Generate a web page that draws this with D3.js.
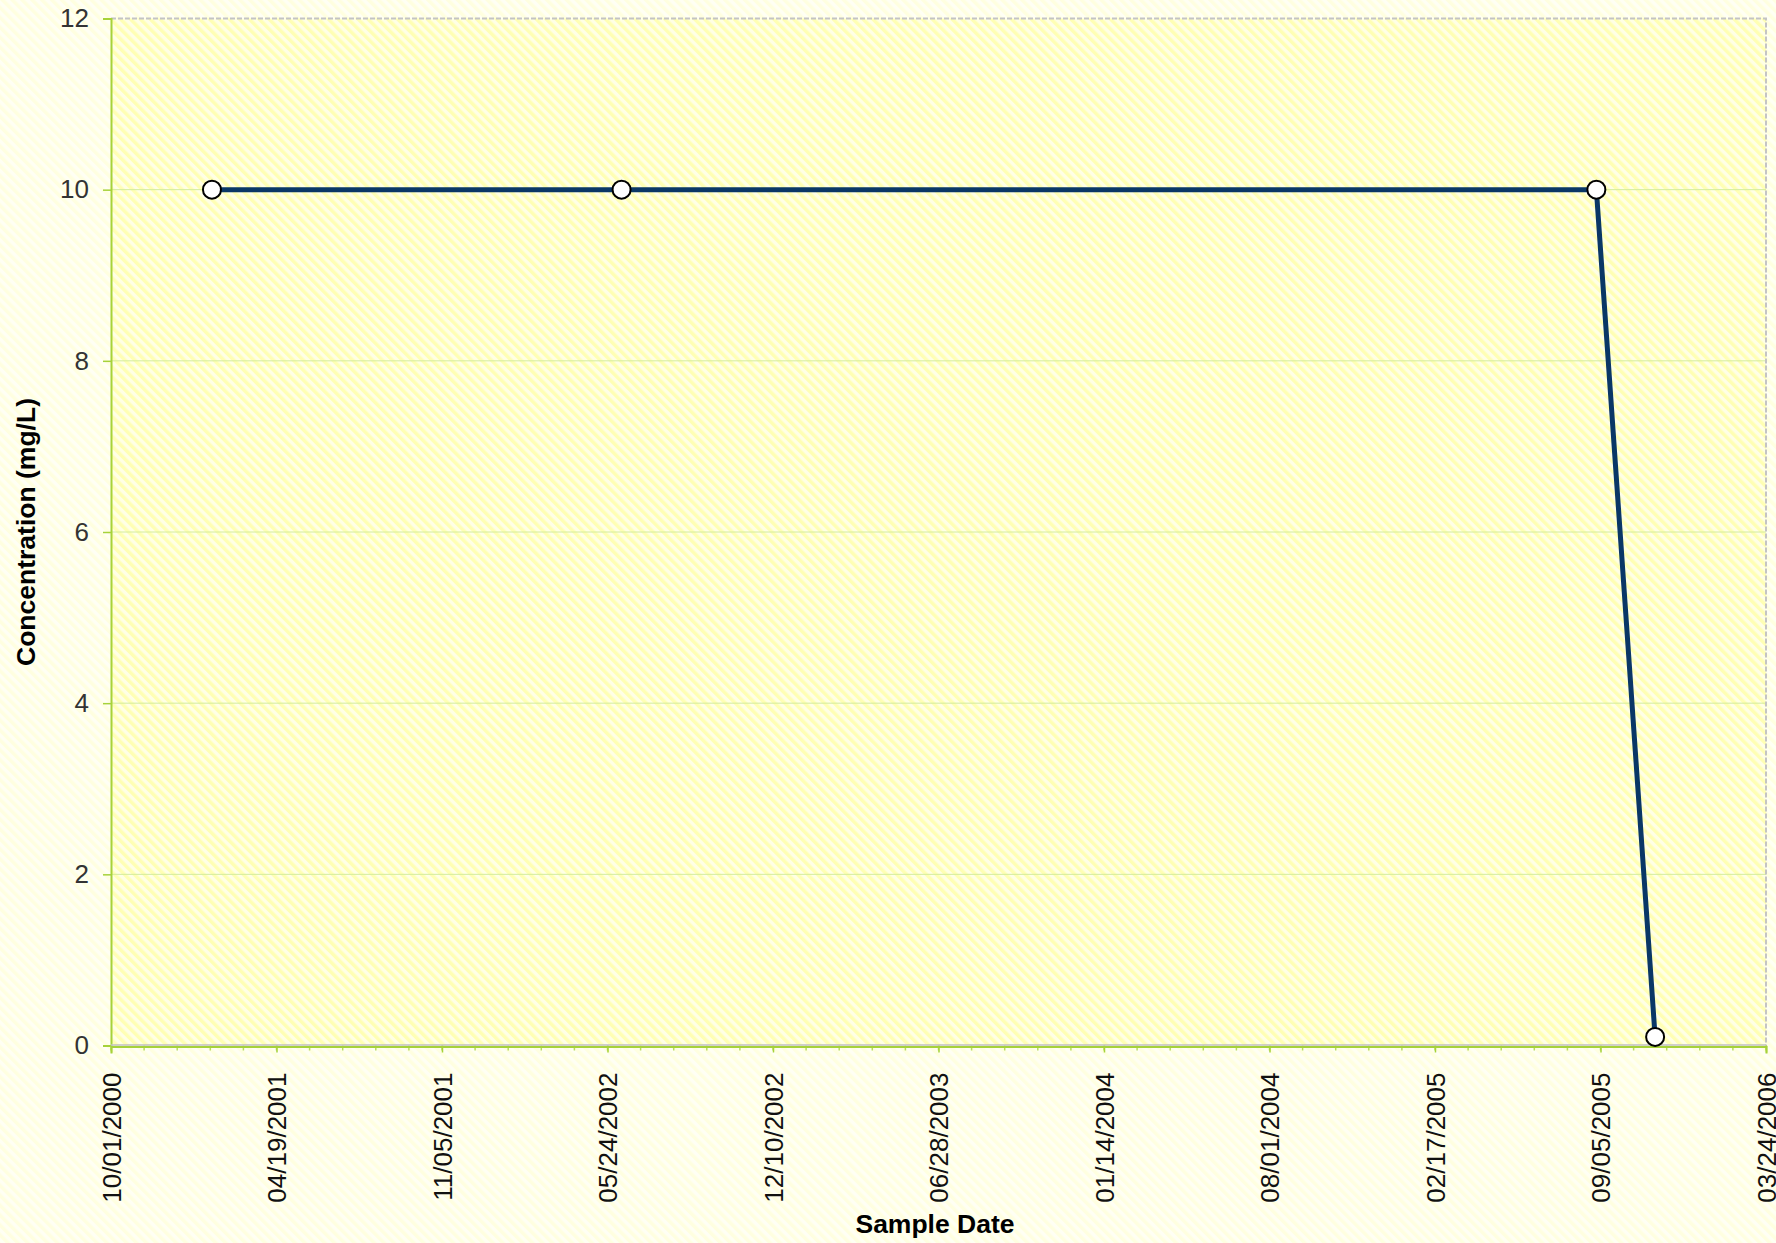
<!DOCTYPE html>
<html>
<head>
<meta charset="utf-8">
<script src="https://cdn.jsdelivr.net/npm/d3@7"></script>
<style>
  html, body { margin: 0; padding: 0; background: #fffff0; }
  svg { display: block; }
  text { font-family: "Liberation Sans", Arial, sans-serif; }
</style>
</head>
<body>
<script>
// ---- data ----
const sampleDates = ["2001-01-31", "2002-06-10", "2005-08-31", "2005-11-10"];
const concentrations = [10, 10, 10, 0.1];
const xTickLabels = ["10/01/2000","04/19/2001","11/05/2001","05/24/2002","12/10/2002","06/28/2003","01/14/2004","08/01/2004","02/17/2005","09/05/2005","03/24/2006"];
const yTicks = [0, 2, 4, 6, 8, 10, 12];
const xDomain = ["2000-10-01", "2006-03-24"];
const yDomain = [0, 12];

(function () {
const W = 1776, H = 1243;
const pL = 111, pT = 18.5, pR = 1766, pB = 1045.5;

const parse = d3.utcParse("%Y-%m-%d");
const parseTick = d3.utcParse("%m/%d/%Y");
const fmt = d3.utcFormat("%m/%d/%Y");

const x = d3.scaleUtc().domain(xDomain.map(parse)).range([pL, pR]);
const y = d3.scaleLinear().domain(yDomain).range([pB, pT]);

const svg = d3.select("body").append("svg").attr("width", W).attr("height", H);
const defs = svg.append("defs");

function stripes(id, bg, fg, size) {
  const p = defs.append("pattern").attr("id", id)
    .attr("patternUnits", "userSpaceOnUse")
    .attr("width", size).attr("height", size)
    .attr("patternTransform", "rotate(-45)");
  p.append("rect").attr("width", size).attr("height", size).attr("fill", bg);
  p.append("rect").attr("width", size / 2).attr("height", size).attr("fill", fg);
}
stripes("outerPat", "#fffff4", "#ffffe0", 7);
stripes("innerPat", "#ffffe6", "#ffffb4", 7);

svg.append("rect").attr("width", W).attr("height", H).attr("fill", "url(#outerPat)");
svg.append("rect").attr("x", pL).attr("y", pT)
  .attr("width", pR - pL).attr("height", pB - pT)
  .attr("fill", "url(#innerPat)");

// grid lines
svg.append("g").selectAll("line").data(yTicks.filter(d => d > 0 && d < 12)).join("line")
  .attr("x1", pL).attr("x2", pR)
  .attr("y1", d => y(d)).attr("y2", d => y(d))
  .attr("stroke", "#d4ec9c").attr("stroke-width", 1);

// top/right dashed border
svg.append("path")
  .attr("d", `M${pL},${pT}H${pR}V${pB}`)
  .attr("fill", "none").attr("stroke", "#c4c4c4").attr("stroke-width", 2)
  .attr("stroke-dasharray", "5,2");

// y axis
const yAxis = d3.axisLeft(y).tickValues(yTicks).tickSize(8).tickPadding(14);
const gy = svg.append("g").attr("transform", `translate(${pL},0)`).call(yAxis);
gy.select(".domain").attr("stroke", "#a6d23a").attr("stroke-width", 2);
gy.selectAll(".tick line").attr("stroke", "#a6d23a").attr("stroke-width", 1.5);
gy.selectAll(".tick text").attr("font-size", 26).attr("fill", "#333")
  .attr("font-family", "Liberation Sans, Arial, sans-serif");

// x axis minor ticks
const t0 = parse(xDomain[0]);
const minorDates = d3.range(0, 51).map(i => d3.utcDay.offset(t0, i * 40));
svg.append("g").selectAll("line").data(minorDates).join("line")
  .attr("x1", d => x(d)).attr("x2", d => x(d))
  .attr("y1", pB).attr("y2", pB + 5)
  .attr("stroke", "#b8dc60").attr("stroke-width", 1.5);

// x axis
const xTickDates = xTickLabels.map(parseTick);
const xAxis = d3.axisBottom(x).tickValues(xTickDates).tickFormat(fmt).tickSize(7).tickPadding(0);
const gx = svg.append("g").attr("transform", `translate(0,${pB})`).call(xAxis);
gx.select(".domain").attr("stroke", "#a6d23a").attr("stroke-width", 2).attr("transform", "translate(0,1)");
gx.selectAll(".tick line").attr("stroke", "#a6d23a").attr("stroke-width", 1.5);
gx.selectAll(".tick text")
  .attr("font-size", 26).attr("fill", "#111")
  .attr("font-family", "Liberation Sans, Arial, sans-serif")
  .attr("text-anchor", "end")
  .attr("transform", "translate(0,27) rotate(-90)")
  .attr("x", 0).attr("y", 0).attr("dy", "0.35em");
svg.append("line").attr("x1", pL).attr("x2", pR).attr("y1", pB - 0.5).attr("y2", pB - 0.5)
  .attr("stroke", "#c0c0c0").attr("stroke-width", 1.5);

// axis titles
svg.append("text").attr("transform", `translate(35,532) rotate(-90)`)
  .attr("text-anchor", "middle").attr("font-size", 26.5).attr("font-weight", "bold")
  .attr("fill", "#000").text("Concentration (mg/L)");
svg.append("text").attr("x", 935).attr("y", 1233)
  .attr("text-anchor", "middle").attr("font-size", 26.5).attr("font-weight", "bold")
  .attr("fill", "#000").text("Sample Date");

// series
const data = sampleDates.map((d, i) => ({ date: parse(d), value: concentrations[i] }));
svg.append("path").datum(data)
  .attr("d", d3.line().x(d => x(d.date)).y(d => y(d.value)))
  .attr("fill", "none").attr("stroke", "#0a3766").attr("stroke-width", 5)
  .attr("stroke-linejoin", "round");
svg.append("g").selectAll("circle").data(data).join("circle")
  .attr("cx", d => x(d.date)).attr("cy", d => y(d.value)).attr("r", 9)
  .attr("fill", "#fff").attr("stroke", "#000").attr("stroke-width", 2);
})();
</script>
</body>
</html>
